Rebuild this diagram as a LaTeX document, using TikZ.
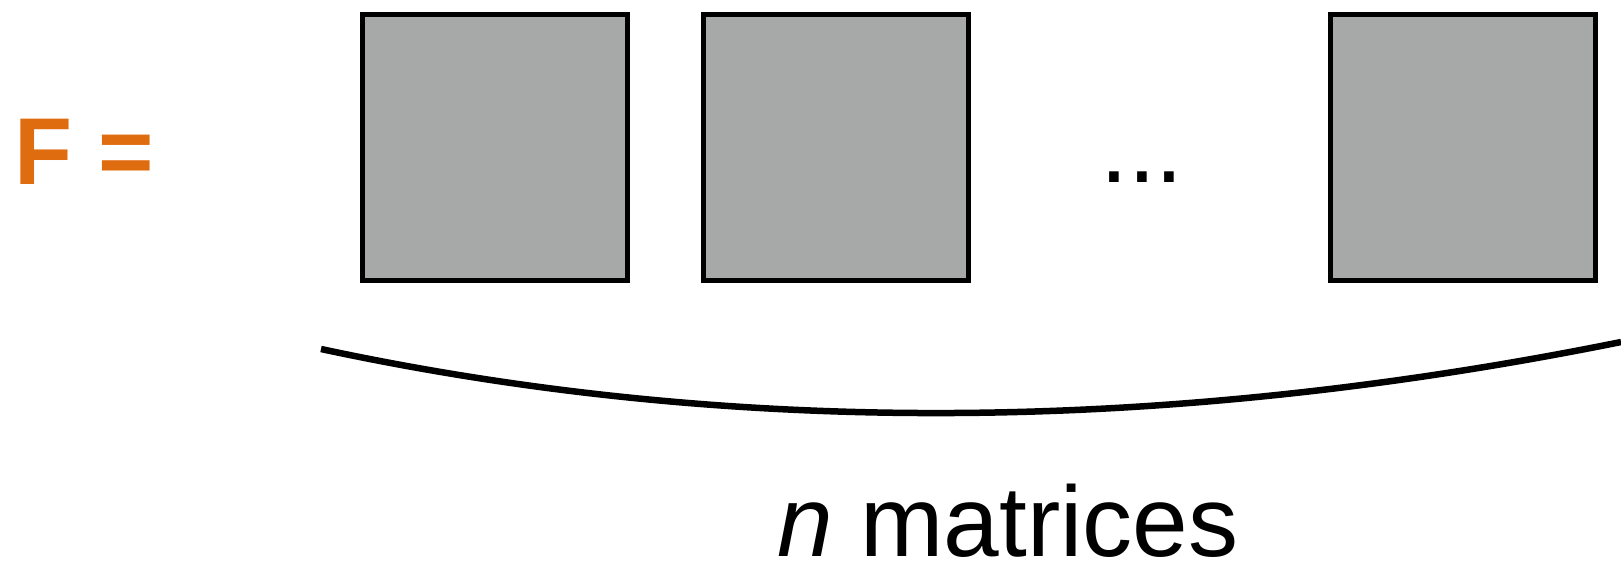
\documentclass[tikz,border=0pt]{standalone}
\usepackage{fontspec}
\setmainfont{Liberation Sans}
\definecolor{forange}{HTML}{E06C10}
\definecolor{mgray}{HTML}{A6A9A7}
\begin{document}
\begin{tikzpicture}[x=1pt,y=-1pt,
  matbox/.style={draw=black,fill=mgray,line width=5pt,minimum width=265pt,minimum height=266pt,inner sep=0pt,outer sep=0pt},
  bigtext/.style={inner sep=0pt,outer sep=0pt,font=\fontsize{100}{110}\selectfont}]
\useasboundingbox (0,0) rectangle (1621,560);
\node[bigtext,anchor=base west,text=forange,font=\fontsize{95}{100}\selectfont\bfseries] (F) at (14,184) {F =};
\node[matbox] (m1) at (495,147.5) {};
\node[matbox] (m2) at (836,147.5) {};
\node[bigtext,anchor=base] (dots) at (1142,182) {...};
\node[matbox] (m3) at (1463,147.5) {};
\coordinate (bl) at (321,349);
\coordinate (br) at (1621,342);
\draw[line width=6.5pt] (bl) .. controls (730.3,436.7) and (1163.7,434.3) .. (br);
\node[bigtext,anchor=base west] (lab) at (777,556) {\textit{n} matrices};
\end{tikzpicture}
\end{document}
